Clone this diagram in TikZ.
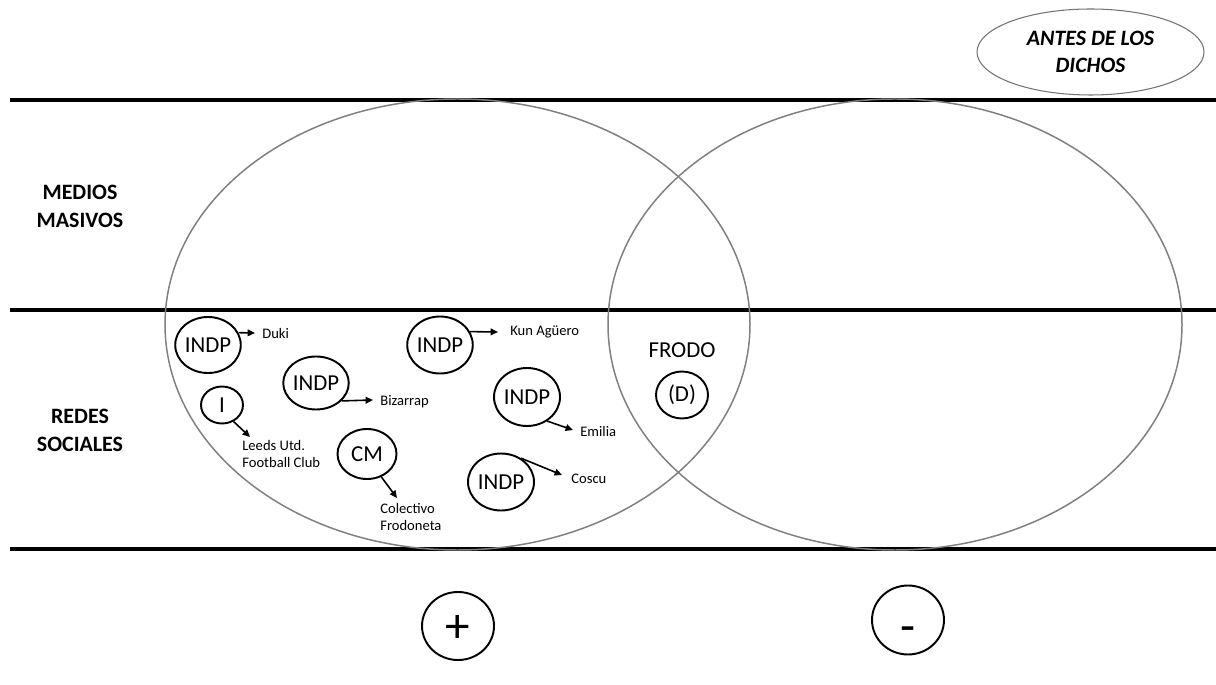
\documentclass[tikz,border=0pt]{standalone}
\usepackage{fontspec}
\setmainfont{Carlito}
\usetikzlibrary{shapes.geometric,arrows.meta}
\def\PX{0.02cm}
\begin{document}
\begin{tikzpicture}[x=0.02cm,y=-0.02cm,
  band/.style={line width=2pt,black},
  venn/.style={line width=0.85pt,black!50},
  circ/.style={ellipse,draw,line width=1.1pt,inner sep=0pt,font=\fontsize{13}{15.6}\selectfont},
  lbl/.style={anchor=base west,inner sep=0pt,align=left,font=\fontsize{8.3}{9.6}\selectfont},
  rowlbl/.style={align=center,inner sep=0pt,font=\bfseries\fontsize{12.5}{15.9}\selectfont},
  signtxt/.style={inner sep=0pt,font=\fontsize{28}{30}\selectfont},
  arr/.style={line width=0.9pt,-{Triangle[length=4.2pt,width=3.8pt]}}
]
\path[use as bounding box] (0,0) rectangle (1216,685);

% bands
\draw[band] (10,100) -- (1216,100);
\draw[band] (10,310) -- (1216,310);
\draw[band] (10,549) -- (1216,549);

% Venn ellipses
\draw[venn] (457.5,324.5) ellipse [x radius=292.5, y radius=225.5];
\draw[venn] (895,324.5) ellipse [x radius=287, y radius=225.5];

% row labels
\node[rowlbl] (mm) at (80,206) {MEDIOS\\MASIVOS};
\node[rowlbl] (rs) at (80,430.5) {REDES\\SOCIALES};

% top-right label
\node[ellipse,draw=black!55,line width=0.6pt,minimum width=227*\PX,minimum height=86*\PX,
      inner sep=0pt,align=center,font=\bfseries\itshape\fontsize{12.5}{15.3}\selectfont]
      (antes) at (1090.5,52) {ANTES DE LOS\\DICHOS};

% small circles
\node[circ,minimum width=64*\PX,minimum height=56*\PX] (cduki) at (208,345) {INDP};
\node[circ,minimum width=63*\PX,minimum height=53*\PX] (cbiz) at (316,383) {INDP};
\node[circ,minimum width=42*\PX,minimum height=37*\PX] (cleeds) at (222,405) {I};
\node[circ,minimum width=59*\PX,minimum height=50*\PX] (ccm) at (367,454) {CM};
\node[circ,minimum width=65*\PX,minimum height=57*\PX] (ckun) at (440,345) {INDP};
\node[circ,minimum width=66*\PX,minimum height=58*\PX] (cem) at (527,397) {INDP};
\node[circ,minimum width=66*\PX,minimum height=57*\PX] (cco) at (501,482) {INDP};
\node[circ,minimum width=52*\PX,minimum height=47*\PX] (cd) at (682,395) {(D)};
\node[inner sep=0pt,font=\fontsize{13}{15.6}\selectfont] (frodo) at (682,350.5) {FRODO};

% labels
\node[lbl] (lduki) at (262,339) {Duki};
\node[lbl] (lbiz) at (380,405) {Bizarrap};
\node[lbl] (lkun) at (510,336) {Kun Agüero};
\node[lbl] (lem) at (580,437) {Emilia};
\node[lbl] (lco) at (571,483) {Coscu};
\node[lbl] (lleeds) at (242,467) {Leeds Utd.\\Football Club};
\node[lbl] (lcf) at (380,530) {Colectivo\\Frodoneta};

% arrow ends
\coordinate (tduki) at (255,333);
\coordinate (tbiz) at (373,400);
\coordinate (tleeds) at (250,437);
\coordinate (tcm) at (397,498);
\coordinate (tkun) at (498,332);
\coordinate (tem) at (573,430);
\coordinate (tco) at (562,475);

\draw[arr] (cduki.22) -- (tduki);
\draw[arr] (cbiz.-35) -- (tbiz);
\draw[arr] (cleeds.-55) -- (tleeds);
\draw[arr] (ccm.-58) -- (tcm);
\draw[arr] (ckun.24) -- (tkun);
\draw[arr] (cem.-50) -- (tem);
\draw[arr] (cco.50) -- (tco);

% signs
\node[circ,minimum width=72*\PX,minimum height=68*\PX] (plus) at (458,626) {};
\node[signtxt,yshift=-1.7pt] (plustxt) at (plus.center) {+};
\node[circ,minimum width=72*\PX,minimum height=69*\PX] (minus) at (908,620) {};
\node[signtxt,yshift=-8.5pt] (minustxt) at (minus.center) {-};
\end{tikzpicture}
\end{document}
